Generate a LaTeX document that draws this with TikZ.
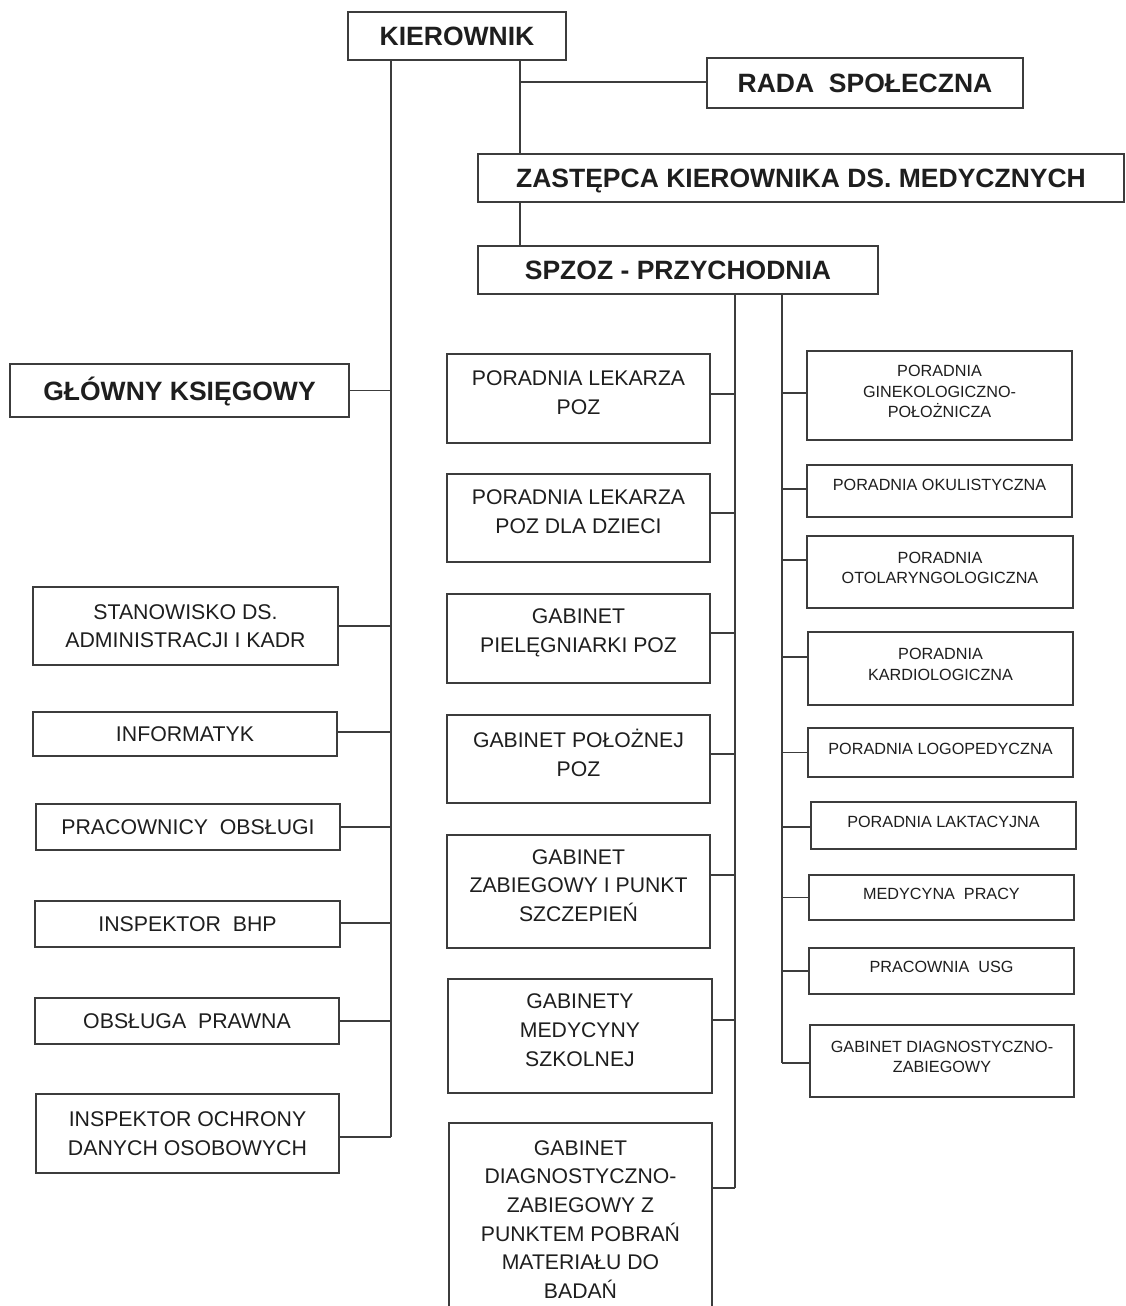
\documentclass[tikz,border=0pt]{standalone}
\usepackage{fontspec}
\setmainfont{Liberation Sans}
\usetikzlibrary{fit}
\definecolor{linec}{HTML}{3C3C3C}
\definecolor{txt}{HTML}{1E1E1E}
\newcommand\orgbox[7]{%
  \node[box,fit={(#2,#3)(#4,#5)}] (#1) {};
  \node[#6] (#1-t) at (#1) {#7};}
\newcommand\hconne[3]{%
  \coordinate (#1c) at ([yshift=#2]#1.east);
  \draw[conn] (#1c) -- (#1c -| #3);}
\newcommand\hconnw[3]{%
  \coordinate (#1c) at ([yshift=#2]#1.west);
  \draw[conn] (#1c) -- (#1c -| #3);}
\begin{document}
\begin{tikzpicture}[x=1pt,y=-1pt,
  box/.style={draw=linec,line width=1.4pt,inner sep=0pt,rectangle},
  conn/.style={draw=linec,line width=1.4pt},
  title/.style={font=\fontsize{26.5}{32}\selectfont\bfseries,text=txt,
                text height=19pt,text depth=0pt,inner sep=0pt},
  lefttxt/.style={font=\fontsize{21.3}{28.5}\selectfont,align=center,text=txt,inner sep=0pt},
  midtxt/.style={font=\fontsize{21.2}{28.7}\selectfont,align=center,text=txt,inner sep=0pt,yshift=6pt},
  rtxt/.style={font=\fontsize{16.2}{20.5}\selectfont,align=center,text=txt,inner sep=0pt,yshift=4pt}]
\useasboundingbox (0,0) rectangle (1126,1306);
\fill[white] (0,0) rectangle (1126,1306);
\clip (0,0) rectangle (1126,1306);

% top
\orgbox{kier}{348}{12}{566}{60}{title}{KIEROWNIK}
\orgbox{rada}{707}{58}{1023}{108}{title}{RADA\ \ SPOŁECZNA}
\orgbox{zast}{478}{154}{1124}{202}{title}{ZASTĘPCA KIEROWNIKA DS. MEDYCZNYCH}
\orgbox{spzoz}{478}{246}{878}{294}{title}{SPZOZ - PRZYCHODNIA}
\orgbox{gk}{10}{364}{349}{417}{title}{GŁÓWNY KSIĘGOWY}

% left column
\orgbox{l1}{33}{587}{338}{665}{lefttxt}{STANOWISKO DS.\\ADMINISTRACJI I KADR}
\orgbox{l2}{33}{712}{337}{756}{lefttxt}{INFORMATYK}
\orgbox{l3}{36}{804}{340}{850}{lefttxt}{PRACOWNICY\ \ OBSŁUGI}
\orgbox{l4}{35}{901}{340}{947}{lefttxt}{INSPEKTOR\ \ BHP}
\orgbox{l5}{35}{998}{339}{1044}{lefttxt}{OBSŁUGA\ \ PRAWNA}
\orgbox{l6}{36}{1094}{339}{1173}{lefttxt}{INSPEKTOR OCHRONY\\DANYCH OSOBOWYCH}

% middle column
\orgbox{m1}{447}{354}{710}{443}{midtxt}{PORADNIA LEKARZA\\POZ}
\orgbox{m2}{447}{474}{710}{562}{midtxt}{PORADNIA LEKARZA\\POZ DLA DZIECI}
\orgbox{m3}{447}{594}{710}{683}{midtxt}{GABINET\\PIELĘGNIARKI POZ}
\orgbox{m4}{447}{715}{710}{803}{midtxt}{GABINET POŁOŻNEJ\\POZ}
\orgbox{m5}{447}{835}{710}{948}{midtxt}{GABINET\\ZABIEGOWY I PUNKT\\SZCZEPIEŃ}
\orgbox{m6}{448}{979}{712}{1093}{midtxt}{GABINETY\\MEDYCYNY\\SZKOLNEJ}
\orgbox{m7}{449}{1123}{712}{1316}{midtxt,yshift=-6pt}{GABINET\\DIAGNOSTYCZNO-\\ZABIEGOWY Z\\PUNKTEM POBRAŃ\\MATERIAŁU DO\\BADAŃ}

% right column
\orgbox{r1}{807}{351}{1072}{440}{rtxt}{PORADNIA\\GINEKOLOGICZNO-\\POŁOŻNICZA}
\orgbox{r2}{807}{465}{1072}{517}{rtxt,yshift=2pt}{PORADNIA OKULISTYCZNA}
\orgbox{r3}{807}{536}{1073}{608}{rtxt}{PORADNIA\\OTOLARYNGOLOGICZNA}
\orgbox{r4}{808}{632}{1073}{705}{rtxt}{PORADNIA\\KARDIOLOGICZNA}
\orgbox{r5}{808}{728}{1073}{777}{rtxt}{PORADNIA LOGOPEDYCZNA}
\orgbox{r6}{811}{802}{1076}{849}{rtxt}{PORADNIA LAKTACYJNA}
\orgbox{r7}{809}{875}{1074}{920}{rtxt}{MEDYCYNA\ \ PRACY}
\orgbox{r8}{809}{948}{1074}{994}{rtxt}{PRACOWNIA\ \ USG}
\orgbox{r9}{810}{1025}{1074}{1097}{rtxt}{GABINET DIAGNOSTYCZNO-\\ZABIEGOWY}

% bus positions
\coordinate (bL) at (391,0);
\coordinate (bK) at (520,0);
\coordinate (bM) at (735,0);
\coordinate (bR) at (782,0);

% top connectors
\draw[conn] (kier.south -| bK) -- (zast.north -| bK);
\coordinate (radac) at ([yshift=1pt]rada.west);
\draw[conn] (radac -| bK) -- (radac);
\draw[conn] (zast.south -| bK) -- (spzoz.north -| bK);

% left bus
\hconne{gk}{0pt}{bL}
\hconne{l1}{0pt}{bL}
\hconne{l2}{2pt}{bL}
\hconne{l3}{0pt}{bL}
\hconne{l4}{1pt}{bL}
\hconne{l5}{0pt}{bL}
\hconne{l6}{-3.5pt}{bL}
\draw[conn] (kier.south -| bL) -- (l6c -| bL);

% middle bus
\hconne{m1}{4.5pt}{bM}
\hconne{m2}{5pt}{bM}
\hconne{m3}{5.5pt}{bM}
\hconne{m4}{5pt}{bM}
\hconne{m5}{16.5pt}{bM}
\hconne{m6}{16pt}{bM}
\hconne{m7}{31.5pt}{bM}
\draw[conn] (spzoz.south -| bM) -- (m7c -| bM);

% right bus
\hconnw{r1}{2.5pt}{bR}
\hconnw{r2}{2pt}{bR}
\hconnw{r3}{12pt}{bR}
\hconnw{r4}{11.5pt}{bR}
\hconnw{r5}{0pt}{bR}
\hconnw{r6}{-1.5pt}{bR}
\hconnw{r7}{0pt}{bR}
\hconnw{r8}{0pt}{bR}
\hconnw{r9}{-2pt}{bR}
\draw[conn] (spzoz.south -| bR) -- (r9c -| bR);
\end{tikzpicture}
\end{document}
